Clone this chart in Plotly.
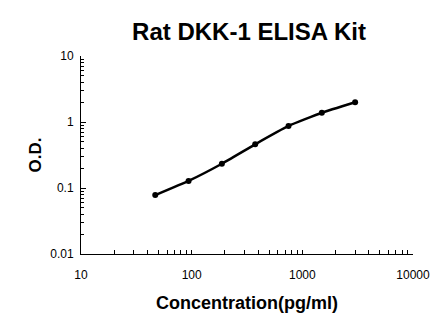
import plotly.graph_objects as go

concentration = [46.875, 93.75, 187.5, 375, 750, 1500, 3000]
od = [0.078, 0.128, 0.233, 0.459, 0.870, 1.38, 1.99]

x_tickvals = [10, 100, 1000, 10000]
x_ticktext = ["10", "100", "1000", "10000"]
y_tickvals = [0.01, 0.1, 1, 10]
y_ticktext = ["0.01", "0.1", "1", "10"]

fig = go.Figure()
fig.add_trace(go.Scatter(
    x=concentration, y=od, mode="lines+markers",
    line=dict(color="black", width=2.5, shape="spline", smoothing=0.4),
    marker=dict(color="black", size=6),
    showlegend=False,
))

font = "Liberation Sans, Arial, sans-serif"
fig.update_layout(
    width=446, height=326,
    margin=dict(l=81, r=33, t=56, b=72),
    paper_bgcolor="white", plot_bgcolor="white",
    font=dict(family=font, color="black", size=12),
    title=dict(text="<b>Rat DKK-1 ELISA Kit</b>", x=249/446, xanchor="center",
               y=1 - 32/326, yanchor="middle", font=dict(size=24, family=font)),
)
fig.update_xaxes(
    type="log", range=[1, 4], tickvals=x_tickvals, ticktext=x_ticktext,
    showline=True, linecolor="black", linewidth=1, showgrid=False, zeroline=False,
    ticks="inside", ticklen=4, tickcolor="black",
    minor=dict(ticks="inside", ticklen=4, tickcolor="black", dtick="D1", showgrid=False),
    ticklabelstandoff=10,
    title=dict(text="<b>Concentration(pg/ml)</b>", font=dict(size=18), standoff=14),
)
fig.update_yaxes(
    type="log", range=[-2, 1], tickvals=y_tickvals, ticktext=y_ticktext,
    showline=True, linecolor="black", linewidth=1, showgrid=False, zeroline=False,
    ticks="inside", ticklen=5, tickcolor="black",
    minor=dict(ticks="inside", ticklen=3, tickcolor="black", dtick="D1", showgrid=False),
    ticklabelstandoff=4,
    title=dict(text="<b>O.D.</b>", font=dict(size=17), standoff=4),
)
fig.write_html("out.html")
